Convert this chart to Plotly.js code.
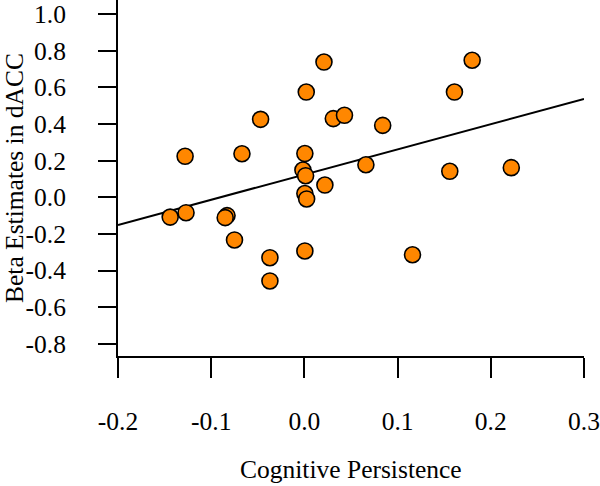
<!DOCTYPE html>
<html>
<head>
<meta charset="utf-8">
<script src="https://cdn.plot.ly/plotly-3.0.1.min.js"></script>
<style>html,body{margin:0;padding:0;background:#fff;}#chart{width:600px;height:486px;}</style>
</head>
<body>
<div id="chart"></div>
<script>
// Cognitive Persistence (x) vs Beta Estimates in dACC (y)
const persistence = [
  0.021, 0.002, -0.047, 0.031, 0.043, -0.128, -0.067, 0.0005,
  -0.0016, 0.0013, 0.022, 0.0005, 0.0024, 0.180, 0.161, 0.084,
  0.066, 0.156, 0.222, 0.116, -0.144, -0.127, -0.083, -0.085,
  -0.075, -0.037, -0.037, 0.0005
];
const betaDACC = [
  0.739, 0.575, 0.426, 0.430, 0.448, 0.224, 0.238, 0.239,
  0.149, 0.118, 0.067, 0.021, -0.009, 0.749, 0.575, 0.393,
  0.178, 0.142, 0.162, -0.314, -0.108, -0.084, -0.100, -0.111,
  -0.233, -0.330, -0.457, -0.293
];
// fitted regression line endpoints
const fitX = [-0.2, 0.3];
const fitY = [-0.151, 0.537];

const xTicks = [-0.2, -0.1, 0.0, 0.1, 0.2, 0.3];
const yTicks = [-0.8, -0.6, -0.4, -0.2, 0.0, 0.2, 0.4, 0.6, 0.8, 1.0];
const xTitle = 'Cognitive Persistence';
const yTitle = 'Beta Estimates in dACC';

const fontFam = '"Liberation Serif", "Times New Roman", serif';
const fs = 25.5;

const traces = [
  {
    x: fitX, y: fitY, type: 'scatter', mode: 'lines',
    line: {color: '#000', width: 2}, hoverinfo: 'skip', showlegend: false
  },
  {
    x: persistence, y: betaDACC, type: 'scatter', mode: 'markers',
    marker: {size: 16, color: 'rgb(255,135,0)', line: {color: '#000', width: 1.6}},
    showlegend: false
  }
];

const layout = {
  width: 600, height: 486,
  margin: {l: 118, r: 16, t: 0, b: 130, pad: 0},
  paper_bgcolor: '#fff', plot_bgcolor: '#fff',
  font: {family: fontFam, color: '#000', size: fs},
  showlegend: false,
  xaxis: {
    range: [-0.2, 0.3], tickvals: xTicks, ticktext: xTicks.map(v => v.toFixed(1)),
    showline: true, linecolor: '#000', linewidth: 2, mirror: false,
    ticks: 'outside', ticklen: 20, tickwidth: 2, tickcolor: '#000',
    showgrid: false, zeroline: false, ticklabelstandoff: 21,
    tickfont: {family: fontFam, size: fs, color: '#000'},
    automargin: false
  },
  yaxis: {
    range: [-0.867, 1.078], tickvals: yTicks, ticktext: yTicks.map(v => v.toFixed(1)),
    showline: true, linecolor: '#000', linewidth: 2, mirror: false,
    ticks: 'outside', ticklen: 18, tickwidth: 2, tickcolor: '#000',
    showgrid: false, zeroline: false, ticklabelstandoff: 27,
    tickfont: {family: fontFam, size: fs, color: '#000'},
    title: {text: yTitle, font: {family: fontFam, size: fs, color: '#000'}, standoff: 12},
    automargin: false
  },
  annotations: [{
    text: xTitle, xref: 'paper', yref: 'paper', x: 0.5, y: 0,
    xanchor: 'center', yanchor: 'middle', yshift: -113, showarrow: false,
    font: {family: fontFam, size: fs, color: '#000'}
  }]
};

Plotly.newPlot('chart', traces, layout, {displayModeBar: false, staticPlot: true});
</script>
</body>
</html>
